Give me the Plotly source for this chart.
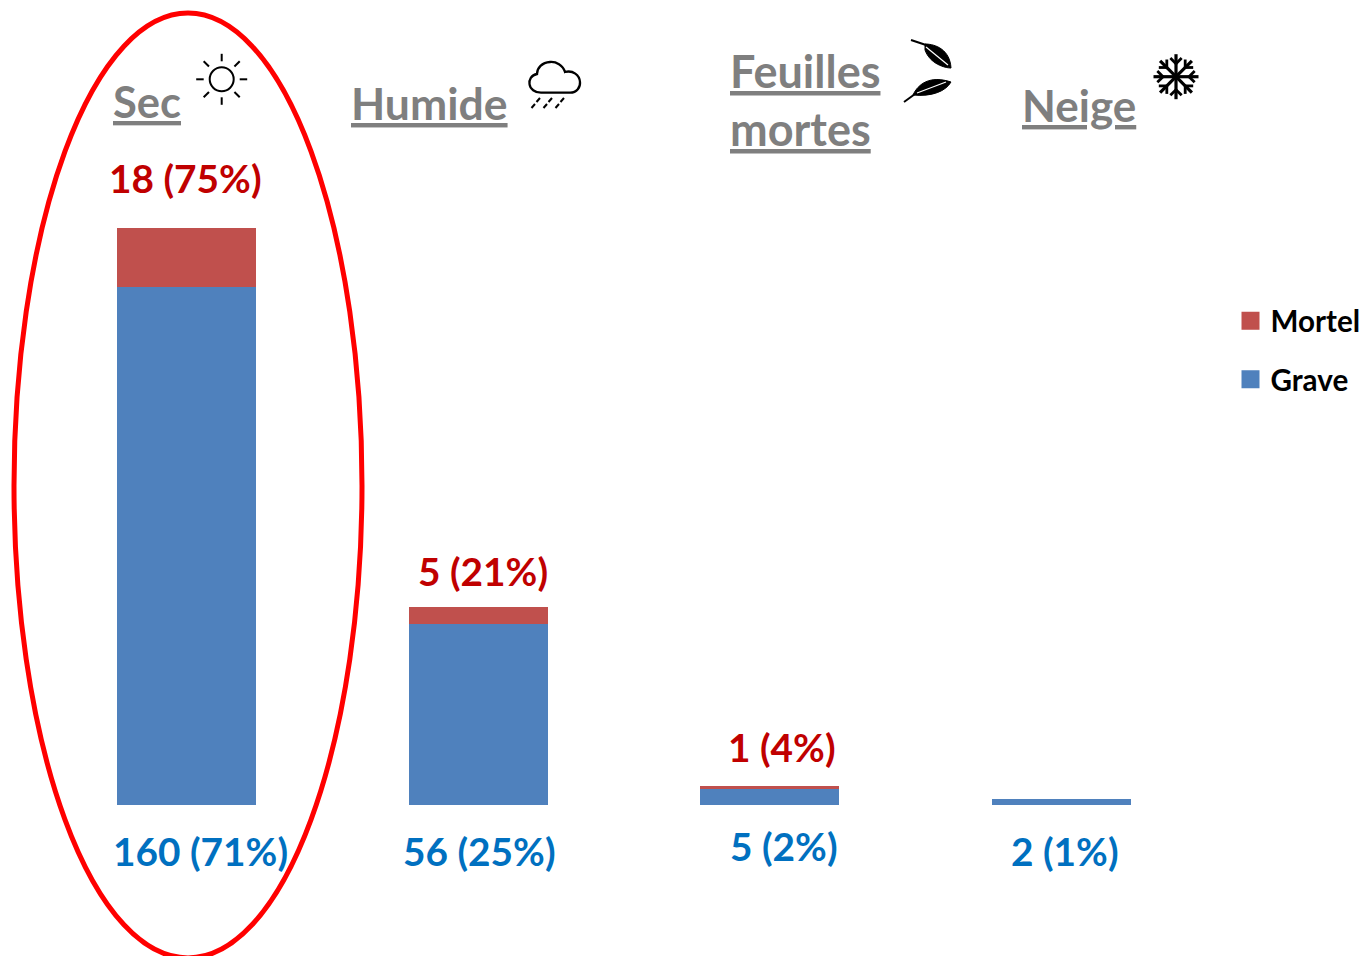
import math
import plotly.graph_objects as go

W, H = 1366, 956
categories = ["Sec", "Humide", "Feuilles mortes", "Neige"]
grave = [160, 56, 5, 2]
mortel = [18, 5, 1, 0]
grave_labels = ["160 (71%)", "56 (25%)", "5 (2%)", "2 (1%)"]
mortel_labels = ["18 (75%)", "5 (21%)", "1 (4%)"]

BLUE, RED = "#4f81bd", "#c0504d"
FONT = "Lato"

def px(x): return x / W
def py(y): return 1 - y / H
def P(cmds):
    """build an SVG path in paper coordinates from pixel tuples"""
    out = []
    for c, *pts in cmds:
        out.append(c + " ".join(f"{px(pts[i]):.5f},{py(pts[i+1]):.5f}" for i in range(0, len(pts), 2)))
    return " ".join(out)

fig = go.Figure()
fig.add_bar(x=categories, y=grave, marker_color=BLUE, marker_line_width=0, width=0.4767, showlegend=False, name="Grave")
fig.add_bar(x=categories, y=mortel, marker_color=RED, marker_line_width=0, width=0.4767, showlegend=False, name="Mortel")
fig.add_scatter(x=[None], y=[None], mode="markers", name="Mortel", legendgroup="m",
                marker=dict(symbol="square", size=16, color=RED, line=dict(color=RED, width=2)))
fig.add_scatter(x=[None], y=[None], mode="markers", name="Grave", legendgroup="g",
                marker=dict(symbol="square", size=16, color=BLUE, line=dict(color=BLUE, width=2)))

ann = []
def text(t, x, y, color, size, under=False, anchor="center"):
    f = dict(family=FONT, size=size, color=color, weight="bold")
    if under:
        f["lineposition"] = "under"
    ann.append(dict(text=t, xref="paper", yref="paper", x=px(x), y=py(y), xanchor=anchor,
                    yanchor="middle", showarrow=False, font=f))

for t, x, y in zip(mortel_labels, [185, 483.5, 782], [178, 571, 747]):
    text(t, x, y, "#c00000", 38.8)
for t, x, y in zip(grave_labels, [200, 479.5, 784, 1064.5], [851, 851, 846, 851]):
    text(t, x, y, "#0070c0", 38.8)
GREY = "#7f7f7f"
text("Sec", 147, 101, GREY, 43.5, True)
text("Humide", 429.5, 103, GREY, 44.5, True)
text("Feuilles", 728, 71, GREY, 45, True, "left")
text("mortes", 728, 129, GREY, 45, True, "left")
text("Neige", 1079, 105, GREY, 44, True)

shapes = [dict(type="circle", xref="paper", yref="paper", x0=px(14), x1=px(362), y0=py(958), y1=py(13),
               line=dict(color="#ff0000", width=5), fillcolor="rgba(0,0,0,0)")]

def stroke(path, w=2, fill=None, color="black"):
    shapes.append(dict(type="path", xref="paper", yref="paper", path=path,
                       line=dict(color=color, width=w), fillcolor=fill or "rgba(0,0,0,0)"))

# sun
cx, cy, r = 221.7, 79.3, 12
shapes.append(dict(type="circle", xref="paper", yref="paper", x0=px(cx - r), x1=px(cx + r), y0=py(cy + r), y1=py(cy - r),
                   line=dict(color="black", width=2)))
for k in range(8):
    a = k * math.pi / 4
    stroke(P([("M", cx + 18 * math.cos(a), cy + 18 * math.sin(a)), ("L", cx + 25.5 * math.cos(a), cy + 25.5 * math.sin(a))]))

# cloud
stroke(P([("M", 541, 92.7), ("L", 570, 92.7),
          ("C", 577, 92.7, 580.5, 87, 580, 82), ("C", 579.5, 75, 573, 70, 565, 72),
          ("C", 563, 65, 556, 61.5, 550, 62), ("C", 542, 62.5, 537, 68, 537, 74),
          ("C", 531, 75, 529, 80, 529.5, 84), ("C", 530, 89, 535, 92.7, 541, 92.7), ("Z",)]), 2.3)
for xx, yy in [(540, 98), (552, 98), (564, 98), (535, 104), (547, 104), (559, 104)]:
    stroke(P([("M", xx, yy), ("L", xx - 3.5, yy + 4)]), 2)

# leaves
stroke(P([("M", 911, 40), ("L", 926, 45)]), 2)
stroke(P([("M", 925, 44), ("C", 936, 44, 950, 50, 951, 68), ("C", 945, 68, 930, 64, 925, 50), ("Z",)]), 1, "black")
stroke(P([("M", 926, 47), ("L", 948, 65)]), 1.2, color="white")
stroke(P([("M", 904, 102), ("L", 915, 94)]), 2)
stroke(P([("M", 913, 95), ("C", 918, 84, 930, 75, 951, 82), ("C", 946, 91, 932, 97, 913, 95), ("Z",)]), 1, "black")
stroke(P([("M", 917, 93), ("L", 946, 82)]), 1.2, color="white")

# snowflake
cx, cy, L = 1176, 76.7, 22.5
for k in range(8):
    a = k * math.pi / 4
    ca, sa = math.cos(a), math.sin(a)
    stroke(P([("M", cx, cy), ("L", cx + L * ca, cy + L * sa)]), 3.2)
    for s in (-1, 1):
        b = a + s * math.pi / 4
        stroke(P([("M", cx + 13 * ca, cy + 13 * sa), ("L", cx + 13 * ca + 8 * math.cos(b), cy + 13 * sa + 8 * math.sin(b))]), 2.8)

fig.update_layout(
    barmode="stack", width=W, height=H, margin=dict(l=0, r=0, t=0, b=0, pad=0),
    paper_bgcolor="white", plot_bgcolor="white", bargap=0,
    xaxis=dict(visible=False, type="category", range=[-186.5 / 291.6, (W - 186.5) / 291.6]),
    yaxis=dict(visible=False, range=[-151 / 3.24, 805 / 3.24]),
    legend=dict(x=px(1230.5), y=py(295), xanchor="left", yanchor="top", tracegroupgap=17,
                font=dict(family=FONT, size=29.6, color="black", weight="bold"),
                bgcolor="rgba(0,0,0,0)", itemclick=False, itemdoubleclick=False),
    annotations=ann, shapes=shapes, showlegend=True,
)
fig.write_html("out.html", post_script="document.body.style.margin='0';", config={"displayModeBar": False})
